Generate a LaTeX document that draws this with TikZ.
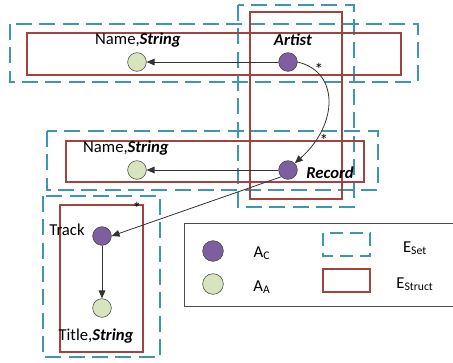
\documentclass[tikz,border=0pt]{standalone}
\usepackage{fontspec}
\setmainfont{Carlito}
\usetikzlibrary{positioning, arrows.meta}
\definecolor{setblue}{HTML}{3F97AC}
\definecolor{structred}{HTML}{A3433E}
\definecolor{cpurple}{HTML}{7D5FA0}
\definecolor{agreen}{HTML}{D8E4BE}

\begin{document}
\begin{tikzpicture}[
  x=0.75pt, y=-0.75pt,
  font=\fontsize{12.5}{14}\selectfont,
  cnode/.style={circle, draw=black!75, fill=cpurple, minimum size=14pt,
    inner sep=0pt},
  anode/.style={circle, draw=black!75, fill=agreen, minimum size=14pt,
    inner sep=0pt},
  setbox/.style={draw=setblue, line width=1.5pt,
    dash pattern=on 12pt off 5.5pt},
  structbox/.style={draw=structred, line width=1.5pt},
  arrow/.style={-{Triangle[length=6pt, width=5pt]}, black!80, semithick},
  lbl/.style={inner sep=1pt},
  star/.style={inner sep=0pt, font=\fontsize{13}{14}\selectfont},
]
  \useasboundingbox (0,0) rectangle (453,362);

  % set and struct boxes
  \draw[setbox] (10,24) rectangle (418,82);
  \draw[setbox] (238,5) rectangle (354,207);
  \draw[setbox] (47,131) rectangle (378,190);
  \draw[setbox] (43,196) rectangle (160,357);
  \draw[structbox] (27,33) rectangle (401,75);
  \draw[structbox] (250,12) rectangle (342,199);
  \draw[structbox] (66,141) rectangle (364,182);
  \draw[structbox] (60,205) rectangle (143,352);

  % attributes
  \node[cnode] (artist) at (288,62) {};
  \node[anode] (aname) at (137,62) {};
  \node[cnode] (record) at (288,170) {};
  \node[anode] (rname) at (137,170) {};
  \node[cnode] (track) at (102,236) {};
  \node[anode] (title) at (102,308) {};

  \node[lbl] (artistlbl) at (293,40) {\textbf{\textit{Artist}}};
  \node[lbl] (anamelbl) at (138,40) {Name,\textbf{\textit{String}}};
  \node[lbl] (recordlbl) at (330,173) {\textbf{\textit{Record}}};
  \node[lbl] (rnamelbl) at (126,148) {Name,\textbf{\textit{String}}};
  \node[lbl] (tracklbl) at (67,230) {Track};
  \node[lbl] (titlelbl) at (96,336) {Title,\textbf{\textit{String}}};

  \node[star] (s1) at (319,69) {*};
  \node[star] (s2) at (324,140) {*};
  \node[star] (s3) at (137,208) {*};

  \draw[arrow] (artist) -- (aname);
  \draw[arrow] (record) -- (rname);
  \draw[arrow] (artist.east) .. controls (340,72) and (338,125) .. (record.north east);
  \draw[arrow] (record.south west) -- (track.east);
  \draw[arrow] (track) -- (title);

  % legend
  \draw[black!70, semithick] (456,223) -- (184,223) -- (184,306) -- (456,306);
  \node[cnode, minimum size=15.5pt] (legc) at (213,251) {};
  \node[anode, minimum size=15.5pt] (lega) at (213,284) {};
  \node[lbl] (legclbl) at (262,253) {A\textsubscript{C}};
  \node[lbl] (legalbl) at (262,287) {A\textsubscript{A}};
  \draw[setbox, dash pattern=on 10pt off 5pt] (323,233) rectangle (370,256);
  \draw[structbox] (323,269) rectangle (370,292);
  \node[lbl] (legslbl) at (415,248) {E\textsubscript{Set}};
  \node[lbl] (legtlbl) at (415,284) {E\textsubscript{Struct}};
\end{tikzpicture}
\end{document}
